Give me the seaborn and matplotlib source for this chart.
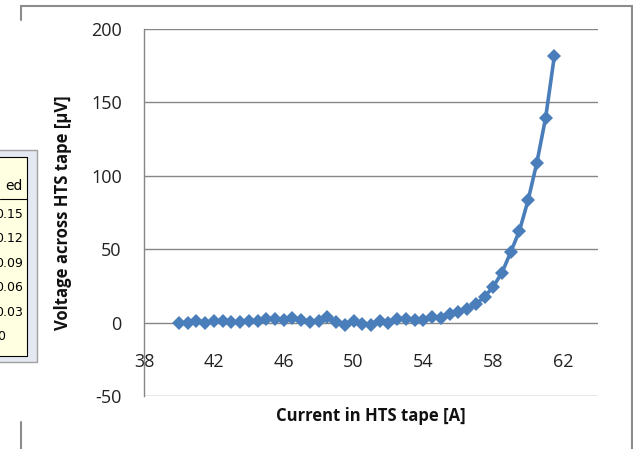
import pandas as pd
import matplotlib.pyplot as plt
import seaborn as sns
from matplotlib.lines import Line2D
from matplotlib.patches import Rectangle

# readings
current = [40.0, 40.5, 41.0, 41.5, 42.0, 42.5, 43.0, 43.5, 44.0, 44.5,
           45.0, 45.5, 46.0, 46.5, 47.0, 47.5, 48.0, 48.5, 49.0, 49.5,
           50.0, 50.5, 51.0, 51.5, 52.0, 52.5, 53.0, 53.5, 54.0, 54.5,
           55.0, 55.5, 56.0, 56.5, 57.0, 57.5, 58.0, 58.5, 59.0, 59.5,
           60.0, 60.5, 61.0, 61.5]
voltage = [-0.6, -0.5, 0.8, -0.4, 0.8, 1.2, 0.6, 0.1, 1.0, 0.8,
           2.6, 2.5, 1.6, 2.8, 1.5, 0.6, 1.2, 3.6, 0.7, -1.6,
           1.2, -0.8, -1.6, 1.0, -0.4, 2.6, 2.6, 1.6, 1.8, 3.6,
           2.8, 5.8, 7.0, 9.0, 12.5, 17.5, 24.5, 34.0, 48.0, 62.5,
           83.5, 109.0, 139.5, 181.5]
x_ticks = [38, 42, 46, 50, 54, 58, 62]
y_ticks = [-50, 0, 50, 100, 150, 200]
table_head = 'ed'
table_vals = ['0.15', '0.12', '0.09', '0.06', '0.03', '0']

W, H = 633, 449
sns.set_style('white')
plt.rcParams['font.family'] = ['Open Sans', 'DejaVu Sans']
plt.rcParams['axes.unicode_minus'] = False

fig = plt.figure(figsize=(W / 100, H / 100), dpi=100)


def fx(px):
    return px / W


def fy(py):
    return 1 - py / H


ax = fig.add_axes([fx(144), fy(396), fx(598) - fx(144), fy(29) - fy(396)])
df = pd.DataFrame({'current': current, 'voltage': voltage})
sns.lineplot(data=df, x='current', y='voltage', ax=ax, color='#4A7EBB',
             linewidth=2.6, marker='D', markersize=7.5, markeredgewidth=0)

ax.set_xlim(38, 64)
ax.set_ylim(-50, 200)
ax.set_xticks(x_ticks)
ax.set_yticks(y_ticks)
ax.grid(axis='y', color='#868686', linewidth=1)
ax.grid(axis='x', visible=False)
for s in ['top', 'right', 'bottom']:
    ax.spines[s].set_visible(False)
ax.spines['left'].set_color('#868686')
ax.spines['left'].set_linewidth(1)
# x labels hang under the zero line
ax.spines['bottom'].set_position(('data', 0))
ax.tick_params(axis='both', length=0, labelsize=13, labelcolor='#222222')
ax.tick_params(axis='x', pad=22)
ax.tick_params(axis='y', pad=16)
ax.set_xlabel('')
ax.set_ylabel('')

fig.text(fx(371), fy(416), 'Current in HTS tape [A]', ha='center', va='center',
         fontsize=12, fontweight='bold', color='#111111')
fig.text(fx(63), fy(213), 'Voltage across HTS tape [µV]', ha='center', va='center',
         rotation=90, fontsize=12, fontweight='bold', color='#111111')

# chart area border (partly hidden)
border = '#8C8C8C'
fig.add_artist(Line2D([fx(21), fx(632)], [fy(6), fy(6)], color=border, lw=1.5))
fig.add_artist(Line2D([fx(632), fx(632)], [fy(6), fy(449)], color=border, lw=1.5))
fig.add_artist(Line2D([fx(21), fx(21)], [fy(6), fy(20)], color=border, lw=1.5))
fig.add_artist(Line2D([fx(21), fx(21)], [fy(422), fy(449)], color=border, lw=1.5))

# tooltip-like table cut by the left edge
fig.add_artist(Rectangle((fx(-2), fy(362)), fx(39), fy(150) - fy(362),
                         facecolor='#E4E8F0', edgecolor='#A0A0A0', lw=1))
fig.add_artist(Rectangle((fx(-2), fy(356)), fx(29), fy(157) - fy(356),
                         facecolor='#FFFFE1', edgecolor='#000000', lw=0.8))
fig.add_artist(Line2D([fx(0), fx(27)], [fy(199), fy(199)], color='#000000', lw=0.8))
fig.text(fx(23), fy(186), table_head, ha='right', va='center', fontsize=10,
         family=['DejaVu Sans'], color='#000000')
for i, v in enumerate(table_vals):
    xr = 23 if v != '0' else 5
    fig.text(fx(xr), fy(214 + i * 24.6), v, ha='right', va='center', fontsize=9,
             family=['DejaVu Sans'], color='#000000')

fig.savefig('out.png', dpi=100)
